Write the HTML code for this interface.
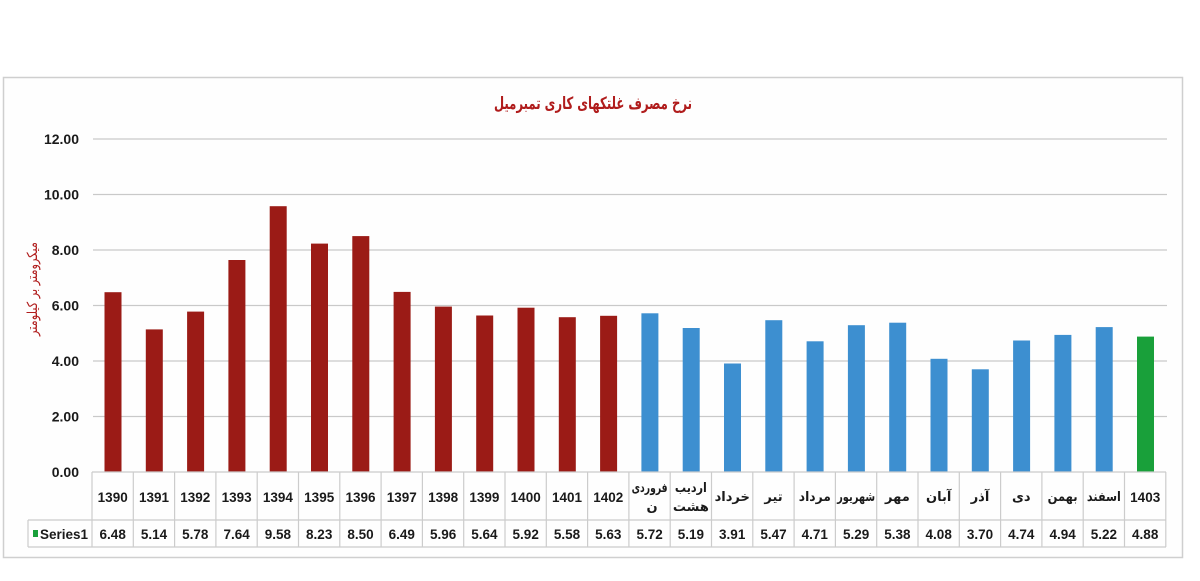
<!DOCTYPE html>
<html>
<head>
<meta charset="utf-8">
<style>
  html,body{margin:0;padding:0;background:#ffffff;}
  svg{display:block;}
  .yt{font-family:"Liberation Sans",sans-serif;font-weight:bold;font-size:14px;fill:#1a1a1a;}
  .ct{font-family:"Liberation Sans",sans-serif;font-weight:bold;font-size:13.5px;fill:#1a1a1a;}
  .fa{font-family:"DejaVu Sans",sans-serif;font-weight:bold;font-size:13px;fill:#1a1a1a;}
</style>
</head>
<body>
<svg width="1200" height="581" viewBox="0 0 1200 581" xmlns="http://www.w3.org/2000/svg">
  <rect x="0" y="0" width="1200" height="581" fill="#ffffff"/>
  <!-- outer frame -->
  <rect x="3.5" y="77.5" width="1179" height="480" fill="#fefefe" stroke="#cfcfcf" stroke-width="1.5"/>

  <!-- title -->
  <text x="593" y="109" text-anchor="middle" direction="rtl" font-family="DejaVu Sans, sans-serif" font-weight="bold" font-size="17" fill="#b01c1c" textLength="198" lengthAdjust="spacingAndGlyphs">نرخ مصرف غلتکهای کاری تمبرمیل</text>

  <!-- y axis title -->
  <text transform="translate(37,289) rotate(-90)" text-anchor="middle" direction="rtl" font-family="DejaVu Sans, sans-serif" font-size="14" fill="#b01c1c" textLength="94" lengthAdjust="spacingAndGlyphs">میکرومتر بر کیلومتر</text>

  <!-- gridlines -->
  <g stroke="#c9c9c9" stroke-width="1.3">
    <line x1="93" y1="139" x2="1167" y2="139"/>
    <line x1="93" y1="194.5" x2="1167" y2="194.5"/>
    <line x1="93" y1="250" x2="1167" y2="250"/>
    <line x1="93" y1="305.5" x2="1167" y2="305.5"/>
    <line x1="93" y1="361" x2="1167" y2="361"/>
    <line x1="93" y1="416.5" x2="1167" y2="416.5"/>
  </g>

  <!-- y tick labels -->
  <g class="yt" text-anchor="end">
    <text x="79" y="144">12.00</text>
    <text x="79" y="199.5">10.00</text>
    <text x="79" y="255">8.00</text>
    <text x="79" y="310.5">6.00</text>
    <text x="79" y="366">4.00</text>
    <text x="79" y="421.5">2.00</text>
    <text x="79" y="477">0.00</text>
  </g>

  <!-- bars -->
  <g id="bars">
    <g fill="#9b1b16">
      <rect x="104.5" y="292.2" width="17" height="179.8"/>
      <rect x="145.8" y="329.4" width="17" height="142.6"/>
      <rect x="187.1" y="311.6" width="17" height="160.4"/>
      <rect x="228.4" y="260.0" width="17" height="212.0"/>
      <rect x="269.7" y="206.2" width="17" height="265.8"/>
      <rect x="311.0" y="243.6" width="17" height="228.4"/>
      <rect x="352.3" y="236.1" width="17" height="235.9"/>
      <rect x="393.6" y="291.9" width="17" height="180.1"/>
      <rect x="434.9" y="306.6" width="17" height="165.4"/>
      <rect x="476.2" y="315.5" width="17" height="156.5"/>
      <rect x="517.5" y="307.7" width="17" height="164.3"/>
      <rect x="558.8" y="317.2" width="17" height="154.8"/>
      <rect x="600.1" y="315.8" width="17" height="156.2"/>
    </g>
    <g fill="#3d8fd0">
      <rect x="641.4" y="313.3" width="17" height="158.7"/>
      <rect x="682.7" y="328.0" width="17" height="144.0"/>
      <rect x="724.0" y="363.5" width="17" height="108.5"/>
      <rect x="765.3" y="320.2" width="17" height="151.8"/>
      <rect x="806.6" y="341.3" width="17" height="130.7"/>
      <rect x="847.9" y="325.2" width="17" height="146.8"/>
      <rect x="889.2" y="322.7" width="17" height="149.3"/>
      <rect x="930.5" y="358.8" width="17" height="113.2"/>
      <rect x="971.8" y="369.3" width="17" height="102.7"/>
      <rect x="1013.1" y="340.5" width="17" height="131.5"/>
      <rect x="1054.4" y="334.9" width="17" height="137.1"/>
      <rect x="1095.7" y="327.1" width="17" height="144.9"/>
    </g>
    <rect x="1137.0" y="336.6" width="17" height="135.4" fill="#19a03a"/>
  </g>

  <!-- data table -->
  <g stroke="#cccccc" stroke-width="1.2" fill="none">
    <line x1="92" y1="472" x2="1166" y2="472"/>
    <line x1="28" y1="520" x2="1166" y2="520"/>
    <line x1="28" y1="547" x2="1166" y2="547"/>
    <line x1="28" y1="520" x2="28" y2="547"/>
    <line x1="92.0" y1="472" x2="92.0" y2="547"/>
    <line x1="133.3" y1="472" x2="133.3" y2="547"/>
    <line x1="174.6" y1="472" x2="174.6" y2="547"/>
    <line x1="215.9" y1="472" x2="215.9" y2="547"/>
    <line x1="257.2" y1="472" x2="257.2" y2="547"/>
    <line x1="298.5" y1="472" x2="298.5" y2="547"/>
    <line x1="339.8" y1="472" x2="339.8" y2="547"/>
    <line x1="381.1" y1="472" x2="381.1" y2="547"/>
    <line x1="422.4" y1="472" x2="422.4" y2="547"/>
    <line x1="463.7" y1="472" x2="463.7" y2="547"/>
    <line x1="505.0" y1="472" x2="505.0" y2="547"/>
    <line x1="546.3" y1="472" x2="546.3" y2="547"/>
    <line x1="587.6" y1="472" x2="587.6" y2="547"/>
    <line x1="628.9" y1="472" x2="628.9" y2="547"/>
    <line x1="670.2" y1="472" x2="670.2" y2="547"/>
    <line x1="711.5" y1="472" x2="711.5" y2="547"/>
    <line x1="752.8" y1="472" x2="752.8" y2="547"/>
    <line x1="794.1" y1="472" x2="794.1" y2="547"/>
    <line x1="835.4" y1="472" x2="835.4" y2="547"/>
    <line x1="876.7" y1="472" x2="876.7" y2="547"/>
    <line x1="918.0" y1="472" x2="918.0" y2="547"/>
    <line x1="959.3" y1="472" x2="959.3" y2="547"/>
    <line x1="1000.6" y1="472" x2="1000.6" y2="547"/>
    <line x1="1041.9" y1="472" x2="1041.9" y2="547"/>
    <line x1="1083.2" y1="472" x2="1083.2" y2="547"/>
    <line x1="1124.5" y1="472" x2="1124.5" y2="547"/>
    <line x1="1165.8" y1="472" x2="1165.8" y2="547"/>
  </g>

  <!-- category labels -->
  <g class="ct" text-anchor="middle">
    <text x="112.7" y="502">1390</text>
    <text x="154.0" y="502">1391</text>
    <text x="195.3" y="502">1392</text>
    <text x="236.6" y="502">1393</text>
    <text x="277.9" y="502">1394</text>
    <text x="319.2" y="502">1395</text>
    <text x="360.5" y="502">1396</text>
    <text x="401.8" y="502">1397</text>
    <text x="443.1" y="502">1398</text>
    <text x="484.4" y="502">1399</text>
    <text x="525.7" y="502">1400</text>
    <text x="567.0" y="502">1401</text>
    <text x="608.3" y="502">1402</text>
    <text x="1145.2" y="502">1403</text>
  </g>
  <g class="fa" text-anchor="middle" direction="rtl">
    <text x="649.6" y="492" textLength="36" lengthAdjust="spacingAndGlyphs">فروردی</text>
    <text x="652" y="511">ن</text>
    <text x="690.9" y="492" textLength="32" lengthAdjust="spacingAndGlyphs">اردیب</text>
    <text x="690.9" y="511">هشت</text>
    <text x="732.2" y="501">خرداد</text>
    <text x="773.5" y="501">تیر</text>
    <text x="814.8" y="501" textLength="32" lengthAdjust="spacingAndGlyphs">مرداد</text>
    <text x="856.1" y="501" textLength="38" lengthAdjust="spacingAndGlyphs">شهریور</text>
    <text x="897.4" y="501">مهر</text>
    <text x="938.7" y="501">آبان</text>
    <text x="980.0" y="501">آذر</text>
    <text x="1021.3" y="501">دی</text>
    <text x="1062.6" y="501" textLength="30" lengthAdjust="spacingAndGlyphs">بهمن</text>
    <text x="1103.9" y="501" textLength="34" lengthAdjust="spacingAndGlyphs">اسفند</text>
  </g>

  <!-- legend key + values -->
  <rect x="33" y="530" width="5" height="7" fill="#19a03a"/>
  <text x="40" y="539" class="ct" font-size="13">Series1</text>
  <g class="ct" text-anchor="middle">
    <text x="112.7" y="539">6.48</text>
    <text x="154.0" y="539">5.14</text>
    <text x="195.3" y="539">5.78</text>
    <text x="236.6" y="539">7.64</text>
    <text x="277.9" y="539">9.58</text>
    <text x="319.2" y="539">8.23</text>
    <text x="360.5" y="539">8.50</text>
    <text x="401.8" y="539">6.49</text>
    <text x="443.1" y="539">5.96</text>
    <text x="484.4" y="539">5.64</text>
    <text x="525.7" y="539">5.92</text>
    <text x="567.0" y="539">5.58</text>
    <text x="608.3" y="539">5.63</text>
    <text x="649.6" y="539">5.72</text>
    <text x="690.9" y="539">5.19</text>
    <text x="732.2" y="539">3.91</text>
    <text x="773.5" y="539">5.47</text>
    <text x="814.8" y="539">4.71</text>
    <text x="856.1" y="539">5.29</text>
    <text x="897.4" y="539">5.38</text>
    <text x="938.7" y="539">4.08</text>
    <text x="980.0" y="539">3.70</text>
    <text x="1021.3" y="539">4.74</text>
    <text x="1062.6" y="539">4.94</text>
    <text x="1103.9" y="539">5.22</text>
    <text x="1145.2" y="539">4.88</text>
  </g>
</svg>
</body>
</html>
